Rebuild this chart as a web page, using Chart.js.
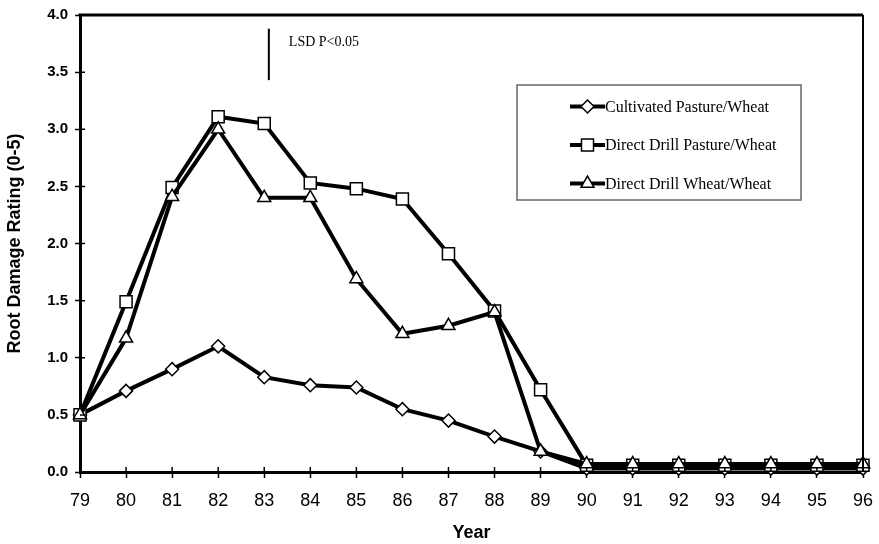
<!DOCTYPE html>
<html>
<head>
<meta charset="utf-8">
<script src="https://cdn.jsdelivr.net/npm/chart.js@4.4.0/dist/chart.umd.min.js"></script>
<style>
  html, body { margin: 0; padding: 0; background: #fff; }
  #wrap { width: 879px; height: 544px; }
</style>
</head>
<body>
<div id="wrap"><canvas id="rootChart"></canvas></div>
<script>
const years = ["79","80","81","82","83","84","85","86","87","88","89","90","91","92","93","94","95","96"];
const cultivatedPastureWheat = [0.50, 0.71, 0.90, 1.10, 0.83, 0.76, 0.74, 0.55, 0.45, 0.31, 0.18, 0.03, 0.03, 0.03, 0.03, 0.03, 0.03, 0.03];
const directDrillPastureWheat = [0.50, 1.49, 2.49, 3.11, 3.05, 2.53, 2.48, 2.39, 1.91, 1.41, 0.72, 0.06, 0.06, 0.06, 0.06, 0.06, 0.06, 0.06];
const directDrillWheatWheat = [0.50, 1.17, 2.41, 3.00, 2.40, 2.40, 1.69, 1.21, 1.28, 1.40, 0.18, 0.07, 0.07, 0.07, 0.07, 0.07, 0.07, 0.07];
const yTicks = [0, 0.5, 1.0, 1.5, 2.0, 2.5, 3.0, 3.5, 4.0];

// LSD bar: drawn at year index 4.1, from 3.88 down by the LSD value
const lsdLabel = "LSD P<0.05";
const lsdIndex = 4.1;
const lsdTop = 3.88;
const lsdValue = 0.45;

const sans = "'Liberation Sans', Arial, sans-serif";
const serif = "'Liberation Serif', 'Times New Roman', serif";

function series(label, data, style, radius, order) {
  return {
    label: label,
    data: data,
    borderColor: "#000",
    borderWidth: 4,
    pointStyle: style,
    pointRadius: radius,
    pointBackgroundColor: "#fff",
    pointBorderColor: "#000",
    pointBorderWidth: 1.5,
    tension: 0,
    clip: false,
    order: order
  };
}

// frame, inner tick stubs, LSD bar and the boxed legend
const extras = {
  id: "extras",
  afterDraw(chart) {
    const ctx = chart.ctx;
    const a = chart.chartArea;
    const x = chart.scales.x, y = chart.scales.y;
    ctx.save();
    ctx.strokeStyle = "#000";
    ctx.lineWidth = 3;
    ctx.beginPath();
    ctx.moveTo(a.left - 1.5, a.top);
    ctx.lineTo(a.right, a.top);
    ctx.stroke();
    ctx.lineWidth = 2;
    ctx.beginPath();
    ctx.moveTo(a.right, a.top);
    ctx.lineTo(a.right, a.bottom);
    ctx.stroke();

    // tick marks cross the axes
    ctx.lineWidth = 1.5;
    ctx.beginPath();
    x.ticks.forEach((t, i) => {
      const px = x.getPixelForTick(i);
      ctx.moveTo(px, a.bottom);
      ctx.lineTo(px, a.bottom - 5);
    });
    y.ticks.forEach((t, i) => {
      const py = y.getPixelForTick(i);
      ctx.moveTo(a.left, py);
      ctx.lineTo(a.left + 5, py);
    });
    ctx.stroke();

    // LSD
    const lx = x.getPixelForValue(lsdIndex);
    ctx.lineWidth = 2;
    ctx.beginPath();
    ctx.moveTo(lx, y.getPixelForValue(lsdTop));
    ctx.lineTo(lx, y.getPixelForValue(lsdTop - lsdValue));
    ctx.stroke();
    ctx.fillStyle = "#000";
    ctx.font = "14px " + serif;
    ctx.textBaseline = "middle";
    ctx.fillText(lsdLabel, lx + 20, 42);

    // legend
    ctx.strokeStyle = "#666";
    ctx.lineWidth = 1.5;
    ctx.strokeRect(517, 85, 284, 115);
    const rows = [106.5, 145, 183.5];
    const shown = [0, 1, 2];
    ctx.font = "16px " + serif;
    shown.forEach((i, k) => {
      const ds = chart.data.datasets[i];
      const yy = rows[k];
      ctx.strokeStyle = "#000";
      ctx.lineWidth = 4;
      ctx.beginPath();
      ctx.moveTo(570, yy);
      ctx.lineTo(605, yy);
      ctx.stroke();
      ctx.fillStyle = "#fff";
      ctx.lineWidth = 1.5;
      Chart.helpers.drawPoint(ctx, { pointStyle: ds.pointStyle, radius: ds.pointRadius, rotation: 0, borderWidth: 1.5 }, 587.5, yy);
      ctx.fillStyle = "#000";
      ctx.fillText(ds.label, 605, yy + 1);
    });
    ctx.restore();
  }
};

new Chart(document.getElementById("rootChart"), {
  type: "line",
  data: {
    labels: years,
    datasets: [
      series("Cultivated Pasture/Wheat", cultivatedPastureWheat, "rectRot", 6.5, 2),
      series("Direct Drill Pasture/Wheat", directDrillPastureWheat, "rect", 8.5, 1),
      series("Direct Drill Wheat/Wheat", directDrillWheatWheat, "triangle", 7.5, 0)
    ]
  },
  options: {
    responsive: true,
    maintainAspectRatio: false,
    animation: false,
    layout: { padding: { top: 15, right: 16, left: 0, bottom: 0 } },
    plugins: {
      legend: { display: false },
      tooltip: { enabled: false }
    },
    scales: {
      x: {
        type: "category",
        offset: false,
        grid: { drawOnChartArea: false, tickLength: 6, tickColor: "#000", tickWidth: 1.5 },
        border: { color: "#000", width: 3 },
        ticks: { color: "#000", font: { family: sans, size: 18 }, padding: 12, maxRotation: 0, autoSkip: false },
        title: { display: true, text: "Year", color: "#000", font: { family: sans, size: 18, weight: "bold" }, padding: { top: 0, bottom: 0 } },
        afterFit: s => { s.height = 72; s.paddingLeft = 0; s.paddingRight = 0; }
      },
      y: {
        min: 0,
        max: 4,
        grid: { drawOnChartArea: false, tickLength: 5, tickColor: "#000", tickWidth: 1.5 },
        border: { color: "#000", width: 3 },
        afterBuildTicks: s => { s.ticks = yTicks.map(v => ({ value: v })); },
        ticks: { color: "#000", font: { family: sans, size: 15, weight: "bold" }, padding: 7, callback: v => Number(v).toFixed(1) },
        title: { display: true, text: "Root Damage Rating (0-5)", color: "#000", font: { family: sans, size: 18, weight: "bold" }, padding: { top: 4, bottom: 0 } },
        afterFit: s => { s.width = 80; s.paddingTop = 0; s.paddingBottom = 0; }
      }
    }
  },
  plugins: [extras]
});
</script>
</body>
</html>
